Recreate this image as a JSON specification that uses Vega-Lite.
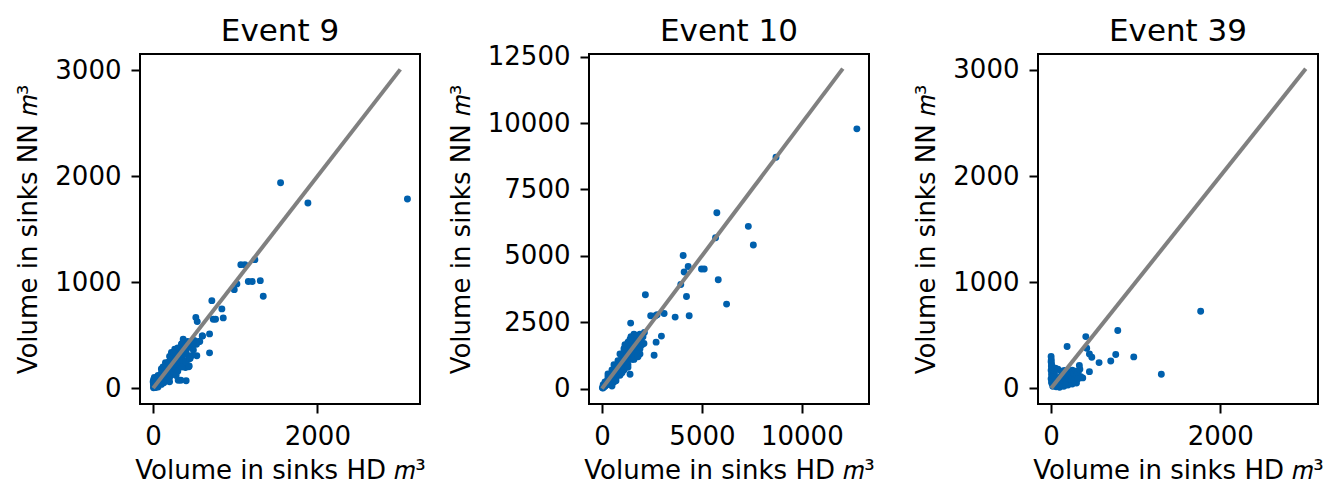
{
  "$schema": "https://vega.github.io/schema/vega-lite/v6.json",
  "background": "white",
  "padding": {"left": 14, "top": 14, "right": 0, "bottom": 0},
  "bounds": "flush",
  "spacing": 169,
  "datasets": {
    "e9": [
      {"hd":1552,"nn":1940},{"hd":1885,"nn":1748},{"hd":3097,"nn":1786},{"hd":1068,"nn":1166},{"hd":1117,"nn":1166},{"hd":1239,"nn":1213},{"hd":1159,"nn":1006},{"hd":1207,"nn":1006},{"hd":1305,"nn":1015},{"hd":1341,"nn":868},{"hd":1020,"nn":984},{"hd":988,"nn":930},{"hd":715,"nn":826},{"hd":837,"nn":748},{"hd":854,"nn":663},{"hd":732,"nn":651},{"hd":760,"nn":651},{"hd":520,"nn":666},{"hd":537,"nn":628},{"hd":598,"nn":493},{"hd":687,"nn":512},{"hd":556,"nn":440},{"hd":687,"nn":333},{"hd":532,"nn":305},{"hd":430,"nn":273},{"hd":434,"nn":201},{"hd":394,"nn":194},{"hd":305,"nn":75},{"hd":337,"nn":75},{"hd":402,"nn":69},{"hd":601,"nn":493},{"hd":568,"nn":440},{"hd":528,"nn":415},{"hd":467,"nn":305},{"hd":439,"nn":210},{"hd":406,"nn":321},{"hd":345,"nn":415},{"hd":366,"nn":462},{"hd":263,"nn":368},{"hd":223,"nn":336},
      {"hd":5,"nn":3},{"hd":8,"nn":12},{"hd":12,"nn":5},{"hd":15,"nn":20},{"hd":20,"nn":8},{"hd":22,"nn":30},{"hd":25,"nn":15},{"hd":30,"nn":40},{"hd":35,"nn":22},{"hd":38,"nn":55},{"hd":40,"nn":30},{"hd":45,"nn":60},{"hd":48,"nn":35},{"hd":50,"nn":18},{"hd":55,"nn":70},{"hd":58,"nn":45},{"hd":60,"nn":80},{"hd":65,"nn":50},{"hd":70,"nn":95},{"hd":72,"nn":40},{"hd":75,"nn":60},{"hd":80,"nn":110},{"hd":85,"nn":70},{"hd":88,"nn":50},{"hd":90,"nn":125},{"hd":95,"nn":80},{"hd":100,"nn":140},{"hd":105,"nn":90},{"hd":110,"nn":60},{"hd":112,"nn":150},{"hd":118,"nn":100},{"hd":120,"nn":170},{"hd":125,"nn":110},{"hd":130,"nn":85},{"hd":135,"nn":180},{"hd":140,"nn":120},{"hd":145,"nn":95},{"hd":150,"nn":200},{"hd":155,"nn":140},{"hd":160,"nn":110},{"hd":165,"nn":210},{"hd":170,"nn":150},{"hd":175,"nn":120},{"hd":180,"nn":240},{"hd":185,"nn":160},{"hd":190,"nn":130},{"hd":195,"nn":250},{"hd":200,"nn":180},{"hd":205,"nn":150},{"hd":210,"nn":270},{"hd":215,"nn":190},{"hd":220,"nn":160},{"hd":225,"nn":280},{"hd":230,"nn":210},{"hd":235,"nn":175},{"hd":240,"nn":300},{"hd":250,"nn":230},{"hd":255,"nn":190},{"hd":260,"nn":320},{"hd":270,"nn":240},{"hd":275,"nn":200},{"hd":280,"nn":330},{"hd":290,"nn":260},{"hd":300,"nn":220},{"hd":310,"nn":350},{"hd":320,"nn":280},{"hd":330,"nn":240},{"hd":340,"nn":370},{"hd":350,"nn":300},{"hd":360,"nn":260},{"hd":370,"nn":390},{"hd":380,"nn":320},{"hd":400,"nn":350},{"hd":420,"nn":380},{"hd":440,"nn":300},{"hd":450,"nn":420},{"hd":470,"nn":390},{"hd":490,"nn":360},{"hd":500,"nn":450},{"hd":250,"nn":130},{"hd":200,"nn":100},{"hd":160,"nn":70},{"hd":130,"nn":50},{"hd":100,"nn":35},{"hd":60,"nn":10},{"hd":30,"nn":5},{"hd":10,"nn":25},{"hd":3,"nn":40},{"hd":0,"nn":60},{"hd":5,"nn":80},{"hd":15,"nn":100},
      {"hd":100,"nn":180},{"hd":150,"nn":240},{"hd":200,"nn":300},{"hd":250,"nn":340},{"hd":300,"nn":380},{"hd":350,"nn":420},{"hd":420,"nn":440},{"hd":300,"nn":160},{"hd":350,"nn":200},{"hd":400,"nn":250},{"hd":450,"nn":280},{"hd":200,"nn":60},{"hd":280,"nn":120},{"hd":180,"nn":220},{"hd":120,"nn":200},{"hd":60,"nn":120},{"hd":40,"nn":90}
    ],
    "e10": [
      {"hd":12753,"nn":9781},{"hd":8706,"nn":8710},{"hd":5747,"nn":6625},{"hd":7322,"nn":6109},{"hd":5682,"nn":5682},{"hd":7573,"nn":5407},{"hd":4062,"nn":5015},{"hd":4313,"nn":4600},{"hd":4112,"nn":4389},{"hd":4980,"nn":4502},{"hd":5115,"nn":4502},{"hd":5817,"nn":4099},{"hd":3942,"nn":3922},{"hd":4228,"nn":3469},{"hd":2171,"nn":3533},{"hd":6234,"nn":3182},{"hd":2437,"nn":2741},{"hd":2673,"nn":2741},{"hd":3109,"nn":2828},{"hd":3661,"nn":2692},{"hd":4363,"nn":2741},{"hd":2758,"nn":2780},{"hd":1434,"nn":2466},{"hd":2974,"nn":1976},{"hd":2708,"nn":1750},{"hd":2608,"nn":1259},{"hd":1404,"nn":543},{"hd":2121,"nn":2111},
      {"hd":20,"nn":30},{"hd":50,"nn":20},{"hd":80,"nn":100},{"hd":100,"nn":60},{"hd":120,"nn":150},{"hd":150,"nn":90},{"hd":180,"nn":220},{"hd":200,"nn":130},{"hd":230,"nn":260},{"hd":250,"nn":180},{"hd":280,"nn":320},{"hd":300,"nn":200},{"hd":320,"nn":380},{"hd":350,"nn":260},{"hd":380,"nn":420},{"hd":400,"nn":300},{"hd":420,"nn":480},{"hd":450,"nn":350},{"hd":480,"nn":520},{"hd":500,"nn":380},{"hd":520,"nn":600},{"hd":550,"nn":420},{"hd":580,"nn":650},{"hd":600,"nn":470},{"hd":620,"nn":700},{"hd":650,"nn":520},{"hd":680,"nn":760},{"hd":700,"nn":560},{"hd":720,"nn":820},{"hd":750,"nn":600},{"hd":780,"nn":880},{"hd":800,"nn":640},{"hd":820,"nn":950},{"hd":850,"nn":700},{"hd":880,"nn":1000},{"hd":900,"nn":760},{"hd":920,"nn":1050},{"hd":950,"nn":800},{"hd":980,"nn":1120},{"hd":1000,"nn":850},{"hd":1020,"nn":1200},{"hd":1050,"nn":900},{"hd":1080,"nn":1250},{"hd":1100,"nn":950},{"hd":1120,"nn":1300},{"hd":1150,"nn":1000},{"hd":1180,"nn":1350},{"hd":1200,"nn":1050},{"hd":1220,"nn":1400},{"hd":1250,"nn":1100},{"hd":1280,"nn":1450},{"hd":1300,"nn":1150},{"hd":1320,"nn":1500},{"hd":1350,"nn":1200},{"hd":1380,"nn":1550},{"hd":1400,"nn":1250},{"hd":1420,"nn":1600},{"hd":1450,"nn":1300},{"hd":1480,"nn":1650},{"hd":1500,"nn":1350},{"hd":1520,"nn":1700},{"hd":1550,"nn":1400},{"hd":1580,"nn":1750},{"hd":1600,"nn":1450},{"hd":1620,"nn":1800},{"hd":1650,"nn":1500},{"hd":1680,"nn":1650},{"hd":1700,"nn":1550},{"hd":1720,"nn":1900},{"hd":1750,"nn":1600},{"hd":1780,"nn":1750},{"hd":1800,"nn":1400},{"hd":1850,"nn":1700},{"hd":1880,"nn":1850},{"hd":1900,"nn":1500},{"hd":1950,"nn":1800},{"hd":2000,"nn":1650},{"hd":1300,"nn":900},{"hd":1500,"nn":1100},{"hd":1700,"nn":1300},{"hd":900,"nn":500},{"hd":700,"nn":400},{"hd":1100,"nn":700},{"hd":400,"nn":150},{"hd":600,"nn":250},{"hd":1000,"nn":1300},{"hd":800,"nn":1050},{"hd":1200,"nn":1600},{"hd":1400,"nn":1850},{"hd":1550,"nn":1950},{"hd":300,"nn":450},{"hd":500,"nn":700},{"hd":150,"nn":250},{"hd":60,"nn":150},{"hd":2050,"nn":1950},{"hd":1900,"nn":2050},{"hd":1750,"nn":2000},
      {"hd":300,"nn":550},{"hd":600,"nn":900},{"hd":900,"nn":1300},{"hd":1100,"nn":1500},{"hd":1300,"nn":1750},{"hd":1600,"nn":2050},{"hd":700,"nn":300},{"hd":1000,"nn":600},{"hd":1300,"nn":800},{"hd":1600,"nn":1100},{"hd":1900,"nn":1300},{"hd":2100,"nn":1700},{"hd":1800,"nn":1200},{"hd":500,"nn":100},{"hd":1150,"nn":1650},{"hd":1450,"nn":1950}
    ],
    "e39": [
      {"hd":1768,"nn":726},{"hd":788,"nn":544},{"hd":410,"nn":487},{"hd":189,"nn":393},{"hd":421,"nn":377},{"hd":453,"nn":324},{"hd":481,"nn":292},{"hd":764,"nn":318},{"hd":977,"nn":296},{"hd":705,"nn":258},{"hd":567,"nn":242},{"hd":1303,"nn":132},{"hd":453,"nn":157},{"hd":374,"nn":98},{"hd":334,"nn":214},{"hd":157,"nn":167},
      {"hd":0,"nn":300},{"hd":2,"nn":270},{"hd":0,"nn":250},{"hd":5,"nn":230},{"hd":3,"nn":210},{"hd":8,"nn":190},{"hd":0,"nn":170},{"hd":10,"nn":150},{"hd":5,"nn":130},{"hd":15,"nn":115},{"hd":20,"nn":100},{"hd":0,"nn":90},{"hd":25,"nn":80},{"hd":30,"nn":60},{"hd":10,"nn":45},{"hd":40,"nn":40},{"hd":50,"nn":30},{"hd":20,"nn":20},{"hd":60,"nn":15},{"hd":70,"nn":50},{"hd":80,"nn":70},{"hd":90,"nn":90},{"hd":100,"nn":60},{"hd":110,"nn":110},{"hd":120,"nn":40},{"hd":130,"nn":80},{"hd":140,"nn":120},{"hd":150,"nn":50},{"hd":160,"nn":100},{"hd":170,"nn":140},{"hd":180,"nn":70},{"hd":190,"nn":110},{"hd":200,"nn":150},{"hd":210,"nn":90},{"hd":220,"nn":130},{"hd":230,"nn":60},{"hd":240,"nn":120},{"hd":250,"nn":170},{"hd":260,"nn":100},{"hd":270,"nn":140},{"hd":280,"nn":80},{"hd":290,"nn":160},{"hd":300,"nn":120},{"hd":320,"nn":150},{"hd":340,"nn":180},{"hd":350,"nn":110},{"hd":200,"nn":30},{"hd":150,"nn":20},{"hd":100,"nn":10},{"hd":250,"nn":40},{"hd":300,"nn":50},{"hd":60,"nn":100},{"hd":40,"nn":140},{"hd":30,"nn":170},{"hd":15,"nn":200},{"hd":50,"nn":190},{"hd":80,"nn":180},{"hd":120,"nn":160},
      {"hd":5,"nn":60},{"hd":12,"nn":80},{"hd":35,"nn":110},{"hd":45,"nn":25},{"hd":90,"nn":20},{"hd":170,"nn":30},{"hd":270,"nn":70},{"hd":320,"nn":90}
    ],
    "l9": [{"hd":0,"nn":0},{"hd":3010,"nn":3010}],
    "l10": [{"hd":0,"nn":0},{"hd":12050,"nn":12050}],
    "l39": [{"hd":0,"nn":0},{"hd":3010,"nn":3010}]
  },
  "hconcat": [
    {
      "title": {"text": "Event 9", "offset": 6},
      "width": 280,
      "height": 350,
      "layer": [
        {
          "data": {"name": "e9"},
          "mark": {"type": "circle", "size": 48, "color": "#0060ad", "opacity": 1},
          "encoding": {
            "x": {"field": "hd", "type": "quantitative", "scale": {"domain": [-160, 3250], "nice": false, "zero": false}, "axis": {"values": [0, 2000], "format": "d", "title": "Volume in sinks HD 𝑚³"}},
            "y": {"field": "nn", "type": "quantitative", "scale": {"domain": [-150, 3155], "nice": false, "zero": false}, "axis": {"values": [0, 1000, 2000, 3000], "format": "d", "title": "Volume in sinks NN 𝑚³"}}
          }
        },
        {
          "data": {"name": "l9"},
          "mark": {"type": "line", "color": "#808080", "strokeWidth": 4},
          "encoding": {
            "x": {"field": "hd", "type": "quantitative"},
            "y": {"field": "nn", "type": "quantitative"}
          }
        }
      ]
    },
    {
      "title": {"text": "Event 10", "offset": -4},
      "width": 280,
      "height": 350,
      "layer": [
        {
          "data": {"name": "e10"},
          "mark": {"type": "circle", "size": 48, "color": "#0060ad", "opacity": 1},
          "encoding": {
            "x": {"field": "hd", "type": "quantitative", "scale": {"domain": [-650, 13360], "nice": false, "zero": false}, "axis": {"values": [0, 5000, 10000], "format": "d", "title": "Volume in sinks HD 𝑚³"}},
            "y": {"field": "nn", "type": "quantitative", "scale": {"domain": [-580, 12600], "nice": false, "zero": false}, "axis": {"values": [0, 2500, 5000, 7500, 10000, 12500], "format": "d", "title": "Volume in sinks NN 𝑚³"}}
          }
        },
        {
          "data": {"name": "l10"},
          "mark": {"type": "line", "color": "#808080", "strokeWidth": 4},
          "encoding": {
            "x": {"field": "hd", "type": "quantitative"},
            "y": {"field": "nn", "type": "quantitative"}
          }
        }
      ]
    },
    {
      "title": {"text": "Event 39", "offset": 6},
      "width": 280,
      "height": 350,
      "layer": [
        {
          "data": {"name": "e39"},
          "mark": {"type": "circle", "size": 48, "color": "#0060ad", "opacity": 1},
          "encoding": {
            "x": {"field": "hd", "type": "quantitative", "scale": {"domain": [-155, 3155], "nice": false, "zero": false}, "axis": {"values": [0, 2000], "format": "d", "title": "Volume in sinks HD 𝑚³"}},
            "y": {"field": "nn", "type": "quantitative", "scale": {"domain": [-148, 3150], "nice": false, "zero": false}, "axis": {"values": [0, 1000, 2000, 3000], "format": "d", "title": "Volume in sinks NN 𝑚³"}}
          }
        },
        {
          "data": {"name": "l39"},
          "mark": {"type": "line", "color": "#808080", "strokeWidth": 4},
          "encoding": {
            "x": {"field": "hd", "type": "quantitative"},
            "y": {"field": "nn", "type": "quantitative"}
          }
        }
      ]
    }
  ],
  "config": {
    "font": "DejaVu Sans",
    "view": {"stroke": "black", "strokeWidth": 2},
    "axis": {
      "domain": false, "grid": false, "tickColor": "black", "tickWidth": 2, "tickSize": 9,
      "labelFont": "DejaVu Sans", "labelFontSize": 26, "labelColor": "black", "labelPadding": 10,
      "labelFlush": false, "labelOverlap": false, "labelBound": false,
      "titleFont": "DejaVu Sans", "titleFontSize": 26, "titleFontWeight": "normal", "titleColor": "black", "titlePadding": 8
    },
    "axisY": {"titlePadding": 13},
    "title": {"font": "DejaVu Sans", "fontSize": 31, "fontWeight": "normal", "color": "black"}
  }
}
